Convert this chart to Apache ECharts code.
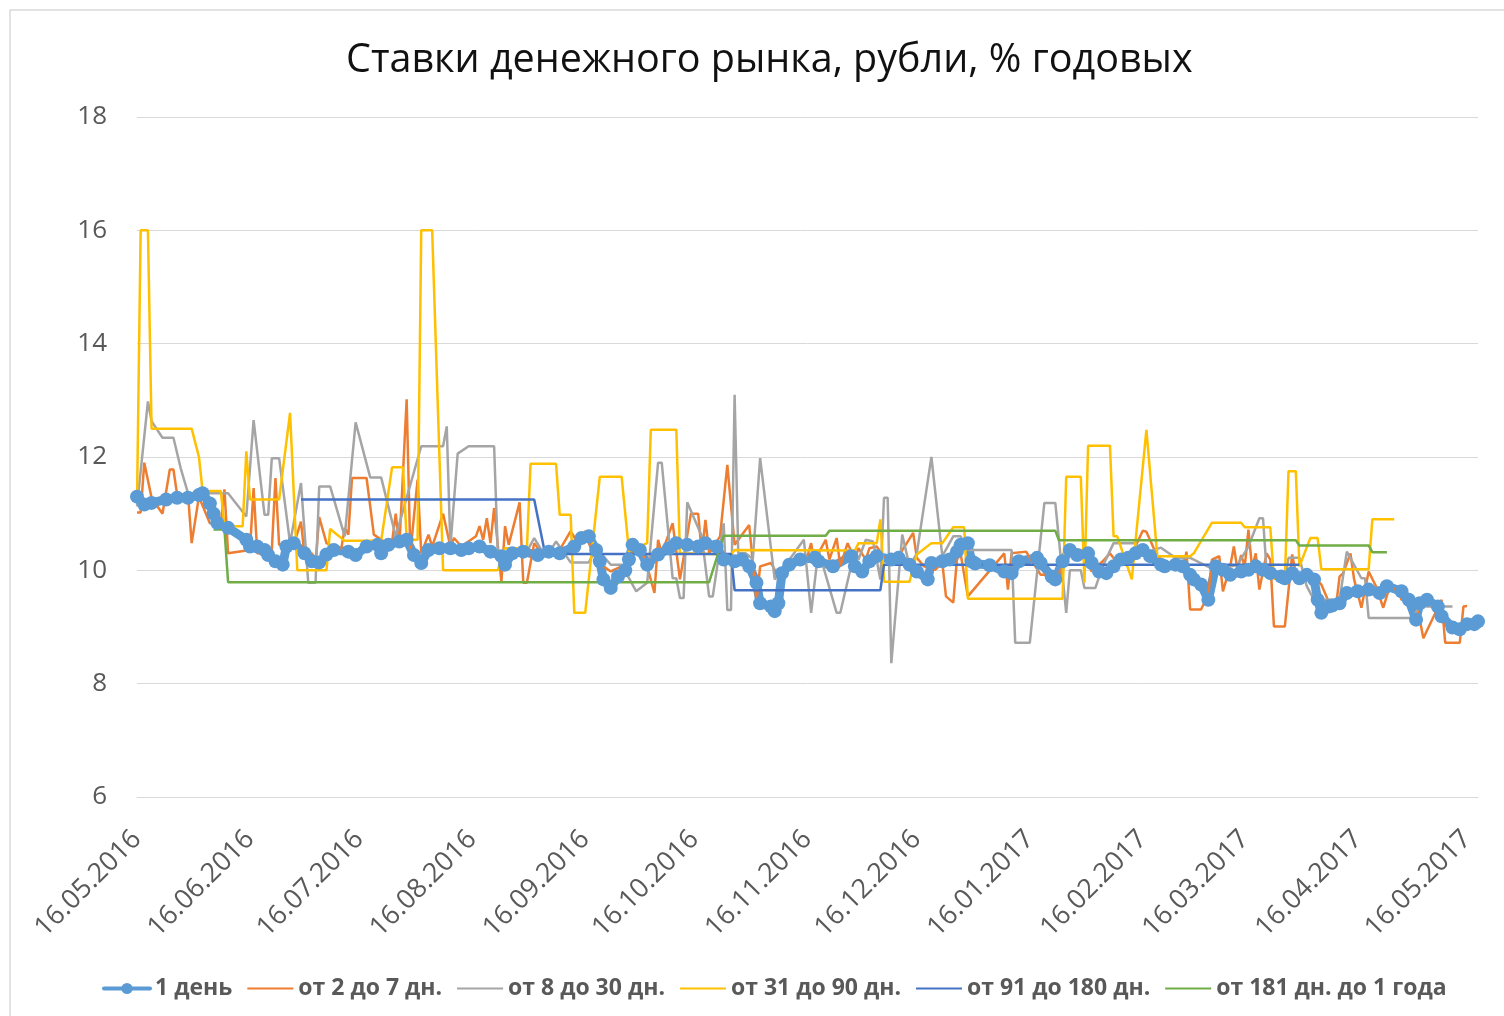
<!DOCTYPE html>
<html>
<head>
<meta charset="utf-8">
<title>Ставки денежного рынка</title>
<script src="https://cdn.jsdelivr.net/npm/echarts@6/dist/echarts.min.js"></script>
<style>
  html, body { margin: 0; padding: 0; background: #fff; }
  #chart { width: 1504px; height: 1016px; }
</style>
</head>
<body>
<div id="chart"></div>
<script>
// Первый и последний день на оси дат
var startDate = new Date(2016, 4, 16);
var endDate = new Date(2017, 4, 19);

// Подписи легенды
var seriesNames = ['1 день', 'от 2 до 7 дн.', 'от 8 до 30 дн.', 'от 31 до 90 дн.', 'от 91 до 180 дн.', 'от 181 дн. до 1 года'];
var seriesColors = ['#5B9BD5', '#ED7D31', '#A5A5A5', '#FFC000', '#4472C4', '#70AD47'];

// Шкала Y
var yMin = 6, yMax = 18, yStep = 2;

// 1 день
var rate1d = [
  ['16.05.2016', 11.3], ['18.05.2016', 11.16], ['20.05.2016', 11.19], ['24.05.2016', 11.25], ['27.05.2016', 11.28],
  ['30.05.2016', 11.28], ['02.06.2016', 11.33], ['03.06.2016', 11.36], ['05.06.2016', 11.18], ['06.06.2016', 11.0],
  ['07.06.2016', 10.84], ['10.06.2016', 10.75], ['15.06.2016', 10.54], ['16.06.2016', 10.42], ['18.06.2016', 10.42],
  ['20.06.2016', 10.36], ['21.06.2016', 10.27], ['23.06.2016', 10.16], ['25.06.2016', 10.1], ['26.06.2016', 10.42],
  ['28.06.2016', 10.48], ['01.07.2016', 10.3], ['03.07.2016', 10.16], ['05.07.2016', 10.14], ['07.07.2016', 10.28],
  ['09.07.2016', 10.36], ['13.07.2016', 10.33], ['15.07.2016', 10.27], ['18.07.2016', 10.42], ['21.07.2016', 10.45],
  ['22.07.2016', 10.3], ['24.07.2016', 10.45], ['27.07.2016', 10.51], ['29.07.2016', 10.54], ['31.07.2016', 10.27],
  ['02.08.2016', 10.13], ['04.08.2016', 10.36], ['07.08.2016', 10.39], ['10.08.2016', 10.39], ['13.08.2016', 10.36],
  ['15.08.2016', 10.39], ['18.08.2016', 10.42], ['21.08.2016', 10.33], ['24.08.2016', 10.25], ['25.08.2016', 10.1],
  ['27.08.2016', 10.3], ['30.08.2016', 10.33], ['03.09.2016', 10.27], ['06.09.2016', 10.33], ['09.09.2016', 10.3],
  ['13.09.2016', 10.42], ['15.09.2016', 10.57], ['17.09.2016', 10.6], ['19.09.2016', 10.36], ['20.09.2016', 10.16],
  ['21.09.2016', 9.84], ['23.09.2016', 9.69], ['25.09.2016', 9.89], ['27.09.2016', 10.0], ['28.09.2016', 10.19],
  ['29.09.2016', 10.45], ['01.10.2016', 10.36], ['03.10.2016', 10.1], ['06.10.2016', 10.28], ['09.10.2016', 10.39],
  ['11.10.2016', 10.48], ['14.10.2016', 10.45], ['17.10.2016', 10.42], ['19.10.2016', 10.48], ['22.10.2016', 10.42],
  ['24.10.2016', 10.19], ['27.10.2016', 10.16], ['29.10.2016', 10.19], ['31.10.2016', 10.07], ['02.11.2016', 9.78],
  ['03.11.2016', 9.42], ['06.11.2016', 9.36], ['07.11.2016', 9.28], ['08.11.2016', 9.42], ['09.11.2016', 9.95],
  ['11.11.2016', 10.1], ['14.11.2016', 10.19], ['18.11.2016', 10.22], ['19.11.2016', 10.16], ['23.11.2016', 10.07],
  ['28.11.2016', 10.25], ['29.11.2016', 10.07], ['01.12.2016', 9.98], ['03.12.2016', 10.16], ['05.12.2016', 10.25],
  ['09.12.2016', 10.19], ['11.12.2016', 10.22], ['14.12.2016', 10.1], ['16.12.2016', 9.98], ['19.12.2016', 9.84],
  ['20.12.2016', 10.13], ['23.12.2016', 10.16], ['25.12.2016', 10.19], ['27.12.2016', 10.33], ['28.12.2016', 10.45],
  ['30.12.2016', 10.48], ['31.12.2016', 10.16], ['01.01.2017', 10.12], ['05.01.2017', 10.09], ['09.01.2017', 9.98],
  ['11.01.2017', 9.95], ['13.01.2017', 10.16], ['18.01.2017', 10.22], ['19.01.2017', 10.13], ['22.01.2017', 9.89],
  ['23.01.2017', 9.84], ['25.01.2017', 10.16], ['27.01.2017', 10.36], ['29.01.2017', 10.27], ['01.02.2017', 10.3],
  ['02.02.2017', 10.13], ['04.02.2017', 9.98], ['06.02.2017', 9.95], ['08.02.2017', 10.07], ['10.02.2017', 10.19],
  ['12.02.2017', 10.22], ['14.02.2017', 10.3], ['16.02.2017', 10.36], ['18.02.2017', 10.25], ['21.02.2017', 10.1],
  ['22.02.2017', 10.07], ['25.02.2017', 10.1], ['27.02.2017', 10.07], ['01.03.2017', 9.92], ['02.03.2017', 9.84],
  ['04.03.2017', 9.75], ['06.03.2017', 9.48], ['08.03.2017', 10.07], ['10.03.2017', 10.01], ['12.03.2017', 9.92],
  ['15.03.2017', 9.98], ['17.03.2017', 10.01], ['19.03.2017', 10.07], ['21.03.2017', 10.01], ['23.03.2017', 9.95],
  ['26.03.2017', 9.89], ['27.03.2017', 9.86], ['29.03.2017', 9.95], ['31.03.2017', 9.86], ['02.04.2017', 9.92],
  ['04.04.2017', 9.84], ['05.04.2017', 9.48], ['06.04.2017', 9.25], ['08.04.2017', 9.36], ['09.04.2017', 9.38],
  ['11.04.2017', 9.42], ['13.04.2017', 9.6], ['16.04.2017', 9.63], ['19.04.2017', 9.66], ['22.04.2017', 9.6],
  ['24.04.2017', 9.72], ['28.04.2017', 9.63], ['30.04.2017', 9.48], ['02.05.2017', 9.13], ['03.05.2017', 9.42],
  ['05.05.2017', 9.48], ['08.05.2017', 9.36], ['09.05.2017', 9.19], ['12.05.2017', 8.99], ['14.05.2017', 8.96],
  ['16.05.2017', 9.05], ['18.05.2017', 9.05], ['19.05.2017', 9.1]
];

// от 2 до 7 дн.
var rate2to7 = [
  ['16.05.2016', 11.02], ['17.05.2016', 11.02], ['18.05.2016', 11.9], ['20.05.2016', 11.28], ['23.05.2016', 11.0],
  ['25.05.2016', 11.78], ['26.05.2016', 11.78], ['27.05.2016', 11.34], ['30.05.2016', 11.34], ['31.05.2016', 10.48],
  ['02.06.2016', 11.3], ['05.06.2016', 10.83], ['08.06.2016', 10.83], ['09.06.2016', 11.43], ['10.06.2016', 10.3],
  ['16.06.2016', 10.36], ['17.06.2016', 11.45], ['18.06.2016', 10.3], ['21.06.2016', 10.3], ['22.06.2016', 10.36],
  ['23.06.2016', 11.63], ['24.06.2016', 10.45], ['28.06.2016', 10.45], ['30.06.2016', 10.86], ['01.07.2016', 10.25],
  ['03.07.2016', 10.3], ['04.07.2016', 10.14], ['05.07.2016', 10.94], ['07.07.2016', 10.48], ['09.07.2016', 10.42],
  ['11.07.2016', 10.36], ['12.07.2016', 10.75], ['13.07.2016', 10.63], ['14.07.2016', 11.63], ['18.07.2016', 11.63],
  ['20.07.2016', 10.63], ['23.07.2016', 10.5], ['25.07.2016', 10.5], ['26.07.2016', 11.0], ['27.07.2016', 10.42],
  ['29.07.2016', 13.02], ['30.07.2016', 10.3], ['01.08.2016', 11.6], ['02.08.2016', 10.3], ['04.08.2016', 10.63],
  ['05.08.2016', 10.42], ['08.08.2016', 11.0], ['10.08.2016', 10.42], ['11.08.2016', 10.57], ['13.08.2016', 10.42],
  ['17.08.2016', 10.6], ['18.08.2016', 10.78], ['19.08.2016', 10.54], ['20.08.2016', 10.92], ['21.08.2016', 10.48],
  ['22.08.2016', 11.1], ['24.08.2016', 9.8], ['25.08.2016', 10.78], ['26.08.2016', 10.45], ['29.08.2016', 11.2],
  ['30.08.2016', 9.78], ['31.08.2016', 9.78], ['02.09.2016', 10.48], ['04.09.2016', 10.3], ['06.09.2016', 10.33],
  ['08.09.2016', 10.25], ['12.09.2016', 10.69], ['14.09.2016', 10.48], ['16.09.2016', 10.69], ['18.09.2016', 10.3],
  ['21.09.2016', 10.07], ['23.09.2016', 9.98], ['27.09.2016', 10.1], ['29.09.2016', 10.33], ['02.10.2016', 10.25],
  ['03.10.2016', 10.07], ['05.10.2016', 9.6], ['06.10.2016', 10.54], ['07.10.2016', 10.3], ['10.10.2016', 10.83],
  ['12.10.2016', 9.84], ['15.10.2016', 11.0], ['17.10.2016', 11.0], ['18.10.2016', 10.3], ['19.10.2016', 10.89],
  ['20.10.2016', 10.3], ['23.10.2016', 10.6], ['25.10.2016', 11.86], ['27.10.2016', 10.45], ['31.10.2016', 10.8],
  ['02.11.2016', 9.45], ['03.11.2016', 10.07], ['06.11.2016', 10.13], ['08.11.2016', 9.89], ['10.11.2016', 10.07],
  ['13.11.2016', 10.16], ['16.11.2016', 10.25], ['17.11.2016', 10.48], ['18.11.2016', 10.1], ['19.11.2016', 10.3],
  ['21.11.2016', 10.54], ['22.11.2016', 10.19], ['24.11.2016', 10.57], ['25.11.2016', 10.07], ['27.11.2016', 10.48],
  ['29.11.2016', 10.19], ['30.11.2016', 10.39], ['02.12.2016', 10.19], ['03.12.2016', 10.39], ['05.12.2016', 10.42],
  ['07.12.2016', 10.22], ['11.12.2016', 10.25], ['15.12.2016', 10.66], ['16.12.2016', 10.22], ['18.12.2016', 10.07],
  ['21.12.2016', 10.01], ['23.12.2016', 10.13], ['24.12.2016', 9.54], ['26.12.2016', 9.43], ['27.12.2016', 10.19],
  ['28.12.2016', 10.3], ['30.12.2016', 9.54], ['09.01.2017', 10.3], ['10.01.2017', 9.66], ['11.01.2017', 10.3],
  ['15.01.2017', 10.33], ['19.01.2017', 9.92], ['24.01.2017', 9.92], ['26.01.2017', 10.39], ['27.01.2017', 10.33],
  ['30.01.2017', 10.36], ['02.02.2017', 9.98], ['05.02.2017', 10.16], ['07.02.2017', 10.3], ['09.02.2017', 10.13],
  ['12.02.2017', 10.27], ['14.02.2017', 10.42], ['16.02.2017', 10.7], ['17.02.2017', 10.68], ['20.02.2017', 10.25],
  ['23.02.2017', 10.1], ['26.02.2017', 10.1], ['27.02.2017', 10.0], ['28.02.2017', 10.33], ['01.03.2017', 9.31],
  ['04.03.2017', 9.31], ['06.03.2017', 9.57], ['07.03.2017', 10.19], ['09.03.2017', 10.25], ['10.03.2017', 9.63],
  ['12.03.2017', 10.07], ['13.03.2017', 10.42], ['14.03.2017', 10.01], ['15.03.2017', 10.27], ['16.03.2017', 10.07],
  ['17.03.2017', 10.72], ['18.03.2017', 10.04], ['19.03.2017', 10.3], ['20.03.2017', 9.66], ['22.03.2017', 10.3],
  ['23.03.2017', 10.19], ['24.03.2017', 9.01], ['27.03.2017', 9.01], ['29.03.2017', 10.28], ['30.03.2017', 9.95],
  ['02.04.2017', 9.84], ['05.04.2017', 9.81], ['06.04.2017', 9.75], ['08.04.2017', 9.45], ['10.04.2017', 9.34],
  ['11.04.2017', 9.89], ['12.04.2017', 9.95], ['14.04.2017', 10.3], ['15.04.2017', 9.84], ['17.04.2017', 9.34],
  ['19.04.2017', 9.98], ['21.04.2017', 9.72], ['23.04.2017', 9.34], ['25.04.2017', 9.76], ['26.04.2017', 9.66],
  ['27.04.2017', 9.69], ['28.04.2017', 9.48], ['02.05.2017', 9.48], ['04.05.2017', 8.8], ['09.05.2017', 9.48],
  ['10.05.2017', 8.72], ['14.05.2017', 8.72], ['15.05.2017', 9.36], ['16.05.2017', 9.37]
];

// от 8 до 30 дн.
var rate8to30 = [
  ['16.05.2016', 11.13], ['19.05.2016', 12.98], ['20.05.2016', 12.63], ['23.05.2016', 12.34], ['26.05.2016', 12.34],
  ['28.05.2016', 11.8], ['30.05.2016', 11.36], ['10.06.2016', 11.36], ['15.06.2016', 10.95], ['17.06.2016', 12.65],
  ['20.06.2016', 10.98], ['21.06.2016', 10.98], ['22.06.2016', 11.98], ['24.06.2016', 11.98], ['27.06.2016', 10.48],
  ['30.06.2016', 11.54], ['02.07.2016', 9.78], ['04.07.2016', 9.78], ['05.07.2016', 11.48], ['08.07.2016', 11.48],
  ['12.07.2016', 10.6], ['15.07.2016', 12.61], ['19.07.2016', 11.64], ['22.07.2016', 11.64], ['26.07.2016', 10.6],
  ['02.08.2016', 12.19], ['08.08.2016', 12.19], ['09.08.2016', 12.54], ['10.08.2016', 10.42], ['12.08.2016', 12.06],
  ['15.08.2016', 12.19], ['22.08.2016', 12.19], ['23.08.2016', 10.33], ['31.08.2016', 10.33], ['02.09.2016', 10.57],
  ['04.09.2016', 10.36], ['06.09.2016', 10.3], ['08.09.2016', 10.51], ['12.09.2016', 10.14], ['17.09.2016', 10.14],
  ['19.09.2016', 10.39], ['23.09.2016', 10.1], ['26.09.2016', 10.1], ['30.09.2016', 9.63], ['03.10.2016', 9.78],
  ['06.10.2016', 11.9], ['07.10.2016', 11.9], ['10.10.2016', 9.86], ['11.10.2016', 9.86], ['12.10.2016', 9.51],
  ['13.10.2016', 9.51], ['14.10.2016', 11.2], ['18.10.2016', 10.6], ['20.10.2016', 9.54], ['21.10.2016', 9.54],
  ['24.10.2016', 10.83], ['25.10.2016', 9.3], ['26.10.2016', 9.3], ['27.10.2016', 13.1], ['28.10.2016', 10.3],
  ['30.10.2016', 10.3], ['01.11.2016', 10.2], ['03.11.2016', 11.98], ['07.11.2016', 9.84], ['10.11.2016', 10.1],
  ['15.11.2016', 10.54], ['17.11.2016', 9.25], ['19.11.2016', 10.36], ['24.11.2016', 9.25], ['25.11.2016', 9.25],
  ['29.11.2016', 10.36], ['30.11.2016', 10.19], ['02.12.2016', 10.54], ['04.12.2016', 10.51], ['06.12.2016', 9.84],
  ['07.12.2016', 11.28], ['08.12.2016', 11.28], ['09.12.2016', 8.36], ['12.12.2016', 10.63], ['14.12.2016', 10.07],
  ['16.12.2016', 10.3], ['20.12.2016', 12.0], ['23.12.2016', 10.25], ['26.12.2016', 10.6], ['28.12.2016', 10.6],
  ['30.12.2016', 10.36], ['11.01.2017', 10.36], ['12.01.2017', 8.72], ['16.01.2017', 8.72], ['20.01.2017', 11.19],
  ['23.01.2017', 11.19], ['26.01.2017', 9.25], ['27.01.2017', 10.0], ['30.01.2017', 10.0], ['31.01.2017', 9.69],
  ['03.02.2017', 9.69], ['05.02.2017', 10.07], ['08.02.2017', 10.48], ['14.02.2017', 10.48], ['16.02.2017', 10.3],
  ['21.02.2017', 10.4], ['25.02.2017', 10.22], ['01.03.2017', 10.22], ['08.03.2017', 10.0], ['14.03.2017', 10.1],
  ['17.03.2017', 10.42], ['20.03.2017', 10.92], ['21.03.2017', 10.92], ['22.03.2017', 9.98], ['23.03.2017', 9.98],
  ['27.03.2017', 9.84], ['28.03.2017', 10.22], ['31.03.2017', 10.22], ['02.04.2017', 9.72], ['04.04.2017', 9.48],
  ['11.04.2017', 9.48], ['13.04.2017', 10.33], ['17.04.2017', 9.86], ['18.04.2017', 9.86], ['19.04.2017', 9.16],
  ['01.05.2017', 9.16], ['03.05.2017', 9.36], ['12.05.2017', 9.36]
];

// от 31 до 90 дн.
var rate31to90 = [
  ['16.05.2016', 11.2], ['17.05.2016', 16], ['19.05.2016', 16], ['20.05.2016', 12.5], ['31.05.2016', 12.5],
  ['02.06.2016', 12.0], ['03.06.2016', 11.4], ['08.06.2016', 11.4], ['09.06.2016', 10.78], ['14.06.2016', 10.78],
  ['15.06.2016', 12.1], ['16.06.2016', 11.25], ['24.06.2016', 11.25], ['27.06.2016', 12.78], ['29.06.2016', 10.0],
  ['07.07.2016', 10.0], ['08.07.2016', 10.73], ['12.07.2016', 10.52], ['22.07.2016', 10.52], ['25.07.2016', 11.82],
  ['28.07.2016', 11.82], ['29.07.2016', 10.54], ['01.08.2016', 10.54], ['02.08.2016', 16], ['05.08.2016', 16],
  ['08.08.2016', 10.0], ['23.08.2016', 10.0], ['25.08.2016', 10.39], ['31.08.2016', 10.39], ['01.09.2016', 11.88],
  ['08.09.2016', 11.88], ['09.09.2016', 10.98], ['12.09.2016', 10.98], ['13.09.2016', 9.25], ['16.09.2016', 9.25],
  ['20.09.2016', 11.65], ['26.09.2016', 11.65], ['28.09.2016', 10.33], ['03.10.2016', 10.48], ['04.10.2016', 12.48],
  ['11.10.2016', 12.48], ['12.10.2016', 10.3], ['26.10.2016', 10.28], ['27.10.2016', 10.36], ['29.11.2016', 10.35],
  ['30.11.2016', 10.48], ['05.12.2016', 10.48], ['06.12.2016', 10.9], ['07.12.2016', 9.8], ['14.12.2016', 9.8],
  ['16.12.2016', 10.28], ['20.12.2016', 10.48], ['23.12.2016', 10.48], ['26.12.2016', 10.76], ['29.12.2016', 10.76],
  ['30.12.2016', 9.5], ['25.01.2017', 9.5], ['26.01.2017', 11.65], ['30.01.2017', 11.65], ['31.01.2017', 9.78],
  ['01.02.2017', 12.2], ['07.02.2017', 12.2], ['08.02.2017', 10.6], ['09.02.2017', 10.6], ['13.02.2017', 9.84],
  ['17.02.2017', 12.48], ['20.02.2017', 10.25], ['01.03.2017', 10.25], ['02.03.2017', 10.3], ['07.03.2017', 10.84],
  ['15.03.2017', 10.84], ['16.03.2017', 10.76], ['23.03.2017', 10.76], ['24.03.2017', 9.85], ['27.03.2017', 9.85],
  ['28.03.2017', 11.75], ['30.03.2017', 11.75], ['31.03.2017', 10.07], ['03.04.2017', 10.57], ['05.04.2017', 10.57],
  ['06.04.2017', 10.02], ['19.04.2017', 10.02], ['20.04.2017', 10.9], ['26.04.2017', 10.9]
];

// от 91 до 180 дн.
var rate91to180 = [
  ['30.06.2016', 11.25], ['02.09.2016', 11.25], ['05.09.2016', 10.29], ['26.10.2016', 10.29], ['27.10.2016', 9.65],
  ['06.12.2016', 9.65], ['07.12.2016', 10.1], ['31.03.2017', 10.1]
];

// от 181 дн. до 1 года
var rate181to1y = [
  ['06.06.2016', 10.72], ['09.06.2016', 10.72], ['10.06.2016', 9.79], ['20.10.2016', 9.79], ['24.10.2016', 10.61],
  ['21.11.2016', 10.61], ['22.11.2016', 10.7], ['23.01.2017', 10.7], ['24.01.2017', 10.53], ['30.03.2017', 10.53],
  ['31.03.2017', 10.44], ['19.04.2017', 10.44], ['20.04.2017', 10.32], ['24.04.2017', 10.32]
];

var allRates = [rate1d, rate2to7, rate8to30, rate31to90, rate91to180, rate181to1y];

// Календарные дни для оси X
function fmtDate(d) {
  var dd = ('0' + d.getDate()).slice(-2);
  var mm = ('0' + (d.getMonth() + 1)).slice(-2);
  return dd + '.' + mm + '.' + d.getFullYear();
}
var days = [];
for (var d = new Date(startDate); d <= endDate; d.setDate(d.getDate() + 1)) {
  days.push(fmtDate(d));
}

var fontName = '"Open Sans", "Noto Sans", sans-serif';

var chart = echarts.init(document.getElementById('chart'));

var series = seriesNames.map(function (name, i) {
  var s = {
    name: name,
    type: 'line',
    data: allRates[i],
    color: seriesColors[i],
    lineStyle: { width: 2.5, color: seriesColors[i] },
    symbol: 'none',
    animation: false
  };
  if (i === 0) {
    // толстая полоса из маркеров, как в исходнике
    s.symbol = 'circle';
    s.symbolSize = 14;
    s.showSymbol = true;
    s.showAllSymbol = true;
    s.lineStyle.width = 9;
    s.lineStyle.cap = 'round';
    s.lineStyle.join = 'round';
    s.itemStyle = { color: seriesColors[i] };
  }
  return s;
});

// у линий без маркеров в легенде только отрезок
var legendItems = seriesNames.map(function (name, i) {
  return i === 0
    ? { name: name, lineStyle: { width: 4 } }
    : { name: name, itemStyle: { opacity: 0 } };
});

var option = {
  backgroundColor: '#fff',
  animation: false,
  textStyle: { fontFamily: fontName },
  title: {
    text: 'Ставки денежного рынка, рубли, % годовых',
    left: 341,
    top: 36,
    textStyle: { fontFamily: fontName, fontSize: 39.5, fontWeight: 'normal', color: '#111' }
  },
  graphic: [{
    type: 'rect',
    shape: { x: 10, y: 10, width: 1520, height: 1030 },
    style: { fill: 'none', stroke: '#d9d9d9', lineWidth: 1.5 },
    silent: true
  }],
  legend: {
    data: legendItems,
    top: 972,
    left: 97,
    itemWidth: 46,
    itemHeight: 14,
    itemGap: 14,
    textStyle: { fontFamily: fontName, fontSize: 23, fontWeight: 'bold', color: '#595959' }
  },
  grid: { left: 137, right: 26, top: 117, bottom: 219 },
  xAxis: {
    type: 'category',
    data: days,
    boundaryGap: false,
    axisLine: { show: true, lineStyle: { color: '#d9d9d9' } },
    axisTick: { show: false },
    splitLine: { show: false },
    axisLabel: {
      rotate: 45,
      margin: 38,
      color: '#595959',
      fontSize: 27,
      fontFamily: fontName,
      interval: function (index, value) { return value.slice(0, 3) === '16.'; }
    }
  },
  yAxis: {
    type: 'value',
    min: yMin,
    max: yMax,
    interval: yStep,
    axisLine: { show: false },
    axisTick: { show: false },
    splitLine: { lineStyle: { color: '#d9d9d9', width: 1 } },
    axisLabel: { color: '#595959', fontSize: 26, margin: 30, fontFamily: fontName }
  },
  series: series
};

chart.setOption(option);
</script>
</body>
</html>
